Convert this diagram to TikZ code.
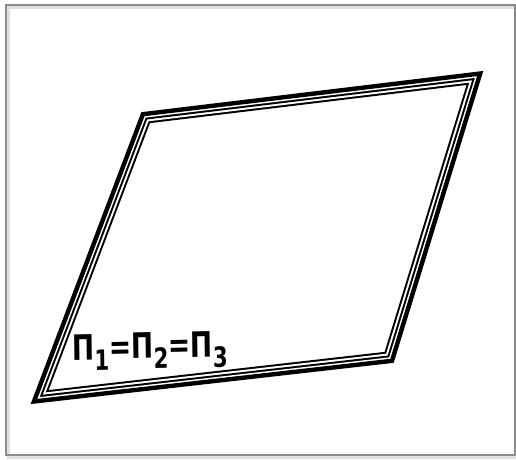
\documentclass[tikz,border=0pt]{standalone}
\usepackage{fontspec}
\newfontfamily\pifont{DejaVu Sans}
\newcommand{\psub}[1]{\raisebox{-0.55ex}{\fontsize{28}{28}\selectfont #1}}
\begin{document}
\begin{tikzpicture}[x=1pt,y=-1pt]
\useasboundingbox (0,0) rectangle (516,459);
% picture frame
\draw[black!12,line width=3] (8,7) rectangle (517,457);
\draw[black!45,line width=1.2] (6,5) rectangle (515,455);
% corners of the plane
\coordinate (tl) at (142,113);
\coordinate (tr) at (482,72);
\coordinate (br) at (393,362);
\coordinate (bl) at (32,403);
% triple edge, stacked inside the plane
\begin{scope}
\clip (bl) -- (tl) -- (tr) -- (br) -- cycle;
\foreach \w/\c in {22/black,18/white,14/black,10/white,7/black}{
  \draw[line width=\w,\c] (bl) -- (tl) -- (tr) -- (br) -- cycle;
}
\end{scope}
\draw[line width=1.8] (bl) -- (tl) -- (tr) -- (br) -- cycle;
\node[anchor=base west,inner sep=0,xscale=.76,rotate=1] (lbl) at (72,360)
  {\pifont\bfseries\fontsize{35}{35}\selectfont Π\psub{1}=Π\psub{2}=Π\psub{3}};
\end{tikzpicture}
\end{document}
